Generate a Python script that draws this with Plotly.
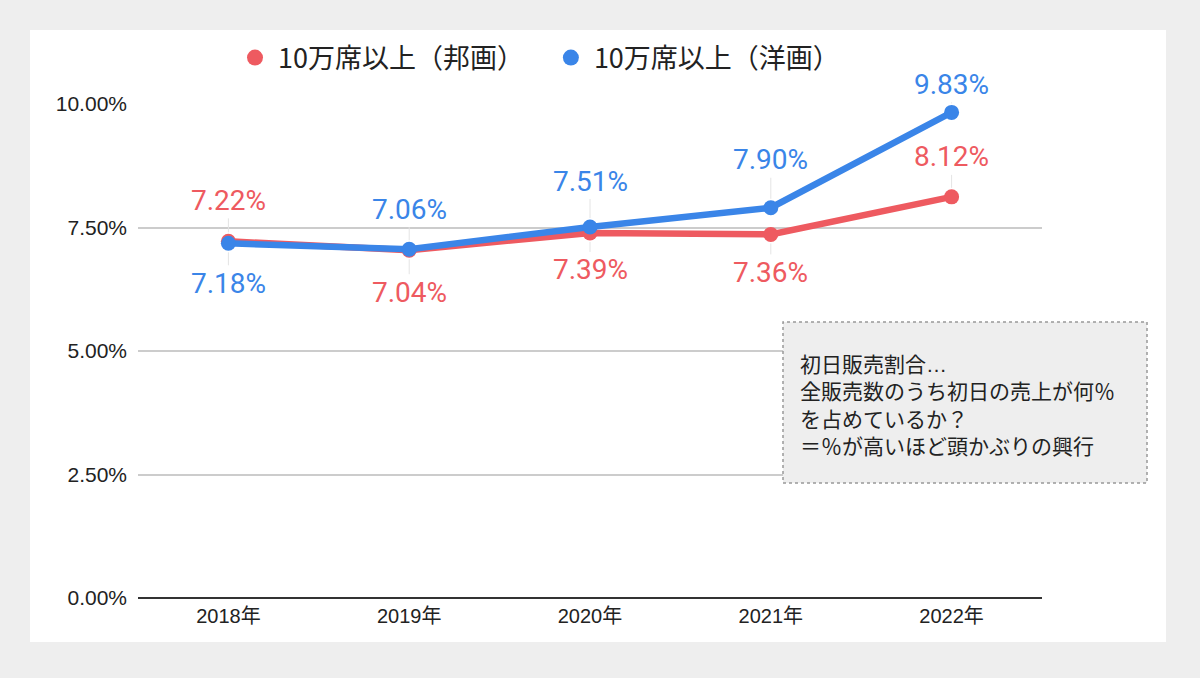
import plotly.graph_objects as go

years = ['2018年', '2019年', '2020年', '2021年', '2022年']
hougaku = [7.22, 7.04, 7.39, 7.36, 8.12]
yougaku = [7.18, 7.06, 7.51, 7.90, 9.83]
names = ['10万席以上（邦画）', '10万席以上（洋画）']
note = ('初日販売割合<span style="font-family:Liberation Sans">…</span><br>'
        '全販売数のうち初日の売上が何％<br>を占めているか？<br>＝％が高いほど頭かぶりの興行')

RED = '#EE5A60'
BLUE = '#3A85E8'

# label offsets in px (negative = above the point)
red_off = [-41, 42, 37, 38, -40]
blue_off = [40, -40, -46, -48, -28]

# pixel -> paper helpers (plot area 138..1042 x, 104..598 y)
def px(x):
    return (x - 138) / 904

def py(y):
    return (598 - y) / 494

fig = go.Figure()

for vals, col in [(hougaku, RED), (yougaku, BLUE)]:
    fig.add_trace(go.Scatter(x=years, y=vals, mode='lines+markers',
                             line=dict(color=col, width=6.5),
                             marker=dict(color=col, size=15),
                             showlegend=False, hoverinfo='skip'))

# legend only entries
for col, name in [(RED, names[0]), (BLUE, names[1])]:
    fig.add_trace(go.Scatter(x=[None], y=[None], mode='markers',
                             name=name + '\u2002\u2009',
                             marker=dict(color=col, size=22)))

annos = []
for vals, col, offs in [(hougaku, RED, red_off), (yougaku, BLUE, blue_off)]:
    for x, v, o in zip(years, vals, offs):
        annos.append(dict(x=x, y=v, xref='x', yref='y', text='%.2f%%' % v,
                          showarrow=True, ax=0, ay=o, arrowhead=0, arrowwidth=1,
                          arrowcolor='#e4e4e4', standoff=9,
                          font=dict(family='Roboto', size=28, color=col)))

annos.append(dict(x=px(798), y=py(346), xref='paper', yref='paper',
                  xanchor='left', yanchor='top', align='left', showarrow=False,
                  text=note,
                  font=dict(family='Noto Sans CJK JP', size=21, color='#222222')))

fig.update_layout(
    width=1200, height=678,
    margin=dict(l=138, r=158, t=104, b=80),
    paper_bgcolor='#eeeeee',
    plot_bgcolor='#ffffff',
    font=dict(family='Liberation Sans, Noto Sans CJK JP', color='#222222'),
    legend=dict(orientation='h', x=px(232), y=py(58), xanchor='left', yanchor='middle',
                font=dict(family='Noto Sans CJK JP', size=27, color='#222222'),
                bgcolor='rgba(0,0,0,0)', itemwidth=36),
    annotations=annos,
    shapes=[
        dict(type='rect', xref='paper', yref='paper', layer='below',
             x0=px(30), x1=px(1166), y0=py(642), y1=py(30),
             fillcolor='#ffffff', line=dict(width=0)),
        dict(type='rect', xref='paper', yref='paper', layer='above',
             x0=px(783), x1=px(1147), y0=py(483), y1=py(322),
             fillcolor='#eeeeee', line=dict(color='#999999', width=1.5, dash='dot')),
    ],
)

fig.update_xaxes(range=[-0.5, 4.5], showgrid=False, ticks='',
                 tickfont=dict(size=20, color='#222222'),
                 showline=False, zeroline=False, ticklabelstandoff=4)
fig.update_yaxes(range=[0, 10], tickvals=[0, 2.5, 5, 7.5, 10],
                 ticktext=['0.00%', '2.50%', '5.00%', '7.50%', '10.00%'],
                 tickfont=dict(size=21, color='#222222'),
                 gridcolor='#cccccc', gridwidth=1.5, zeroline=True,
                 zerolinecolor='#333333', zerolinewidth=2, ticklabelstandoff=10)

fig.write_html('out.html', config={'displayModeBar': False},
               post_script="document.body.style.margin='0';")
